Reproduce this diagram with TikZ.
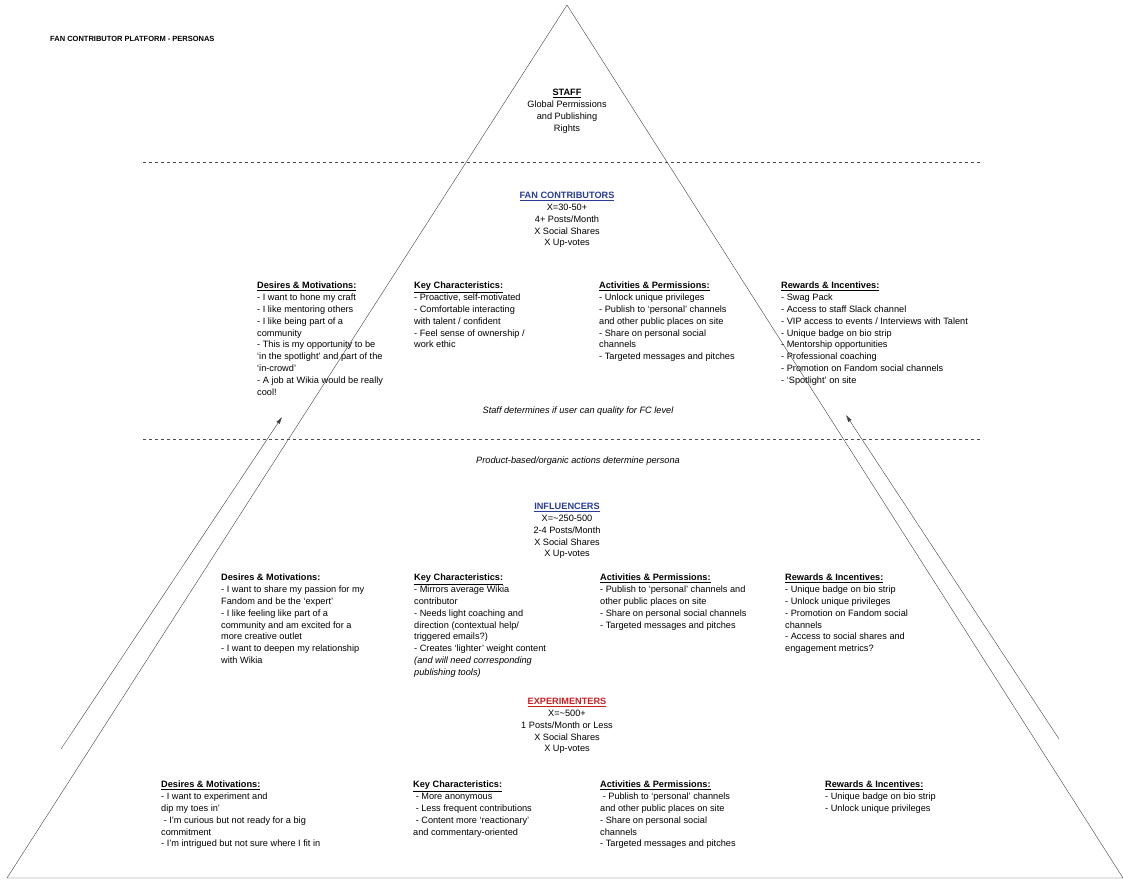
\documentclass[tikz,border=0pt]{standalone}
\usepackage{fontspec}
\setmainfont{Liberation Sans}
\usetikzlibrary{arrows.meta, positioning}
\definecolor{fcblue}{RGB}{40,60,150}
\definecolor{exred}{RGB}{205,30,30}
\newcommand{\hd}[1]{\textbf{\underline{#1}}}

\begin{document}
\begin{tikzpicture}[
            x=1pt, y=-1pt,
            every node/.style={font=\fontsize{9.2}{11.8}\selectfont, inner sep=0pt},
            persona/.style={anchor=north west, align=left},
            tier/.style={anchor=north, align=center},
            note/.style={anchor=north, font=\fontsize{9.2}{11.8}\selectfont\itshape},
            divider/.style={dashed, draw=black!70, thin},
            climb/.style={-{Latex[length=7pt,width=4pt]}, draw=black!75, thin}
        ]
        \useasboundingbox (0,0) rectangle (1123,881);

        % Pyramid
        \coordinate (apex) at (567,5);
        \coordinate (bl) at (7,878);
        \coordinate (br) at (1123,878);
        \draw[black!75, thin] (bl) -- (apex) -- (br) -- cycle;

        % Dividers
        \coordinate (d1l) at (143,162); \coordinate (d1r) at (983,162);
        \coordinate (d2l) at (143,439); \coordinate (d2r) at (983,439);
        \draw[divider] (d1l) -- (d1r);
        \draw[divider] (d2l) -- (d2r);

        % Title
        \node[anchor=west, font=\fontsize{7.5}{9}\selectfont\bfseries] (title) at (50,39) {FAN CONTRIBUTOR PLATFORM - PERSONAS};

        % Staff
        \node[tier] (staff) at (567,89) {\hd{STAFF}\\Global Permissions\\and Publishing\\Rights};

        % Fan contributors
        \node[tier] (fc) at (567,192) {\textbf{\textcolor{fcblue}{\underline{FAN CONTRIBUTORS}}}\\X=30-50+\\4+ Posts/Month\\X Social Shares\\X Up-votes};
        \node[persona] (fcdes) at (257,282) {\hd{Desires \& Motivations:}\\- I want to hone my craft\\- I like mentoring others\\- I like being part of a\\community\\- This is my opportunity to be\\`in the spotlight' and part of the\\`in-crowd'\\- A job at Wikia would be really\\cool!};
        \node[persona] (fckey) at (414,282) {\hd{Key Characteristics:}\\- Proactive, self-motivated\\- Comfortable interacting\\with talent / confident\\- Feel sense of ownership /\\work ethic};
        \node[persona] (fcact) at (599,282) {\hd{Activities \& Permissions:}\\- Unlock unique privileges\\- Publish to `personal' channels\\and other public places on site\\- Share on personal social\\channels\\- Targeted messages and pitches};
        \node[persona] (fcrew) at (781,282) {\hd{Rewards \& Incentives:}\\- Swag Pack\\- Access to staff Slack channel\\- VIP access to events / Interviews with Talent\\- Unique badge on bio strip\\- Mentorship opportunities\\- Professional coaching\\- Promotion on Fandom social channels\\- `Spotlight' on site};
        \node[note] (fcnote) at (578,407) {Staff determines if user can quality for FC level};
        \node[note] (orgnote) at (578,457) {Product-based/organic actions determine persona};

        % Influencers
        \node[tier] (inf) at (567,503) {\textbf{\textcolor{fcblue}{\underline{INFLUENCERS}}}\\X=\textasciitilde250-500\\2-4 Posts/Month\\X Social Shares\\X Up-votes};
        \node[persona] (infdes) at (221,574) {\textbf{Desires \& Motivations:}\\- I want to share my passion for my\\Fandom and be the `expert'\\- I like feeling like part of a\\community and am excited for a\\more creative outlet\\- I want to deepen my relationship\\with Wikia};
        \node[persona] (infkey) at (414,574) {\hd{Key Characteristics:}\\- Mirrors average Wikia\\contributor\\- Needs light coaching and\\direction (contextual help/\\triggered emails?)\\- Creates `lighter' weight content\\\textit{(and will need corresponding}\\\textit{publishing tools)}};
        \node[persona] (infact) at (600,574) {\hd{Activities \& Permissions:}\\- Publish to `personal' channels and\\other public places on site\\- Share on personal social channels\\- Targeted messages and pitches};
        \node[persona] (infrew) at (785,574) {\hd{Rewards \& Incentives:}\\- Unique badge on bio strip\\- Unlock unique privileges\\- Promotion on Fandom social\\channels\\- Access to social shares and\\engagement metrics?};

        % Experimenters
        \node[tier] (exp) at (567,698) {\textbf{\textcolor{exred}{\underline{EXPERIMENTERS}}}\\X=\textasciitilde500+\\1 Posts/Month or Less\\X Social Shares\\X Up-votes};
        \node[persona] (expdes) at (161,781) {\hd{Desires \& Motivations:}\\- I want to experiment and\\dip my toes in'\\\ - I'm curious but not ready for a big\\commitment\\- I'm intrigued but not sure where I fit in};
        \node[persona] (expkey) at (413,781) {\hd{Key Characteristics:}\\\ - More anonymous\\\ - Less frequent contributions\\\ - Content more `reactionary'\\and commentary-oriented};
        \node[persona] (expact) at (600,781) {\hd{Activities \& Permissions:}\\\ - Publish to `personal' channels\\and other public places on site\\- Share on personal social\\channels\\- Targeted messages and pitches};
        \node[persona] (exprew) at (825,781) {\hd{Rewards \& Incentives:}\\- Unique badge on bio strip\\- Unlock unique privileges};

        % Climb arrows
        \coordinate (lfoot) at (61,749); \coordinate (ltip) at (282,417);
        \coordinate (rfoot) at (1059,739); \coordinate (rtip) at (846,415);
        \draw[climb] (lfoot) -- (ltip);
        \draw[climb] (rfoot) -- (rtip);

    \end{tikzpicture}
\end{document}
